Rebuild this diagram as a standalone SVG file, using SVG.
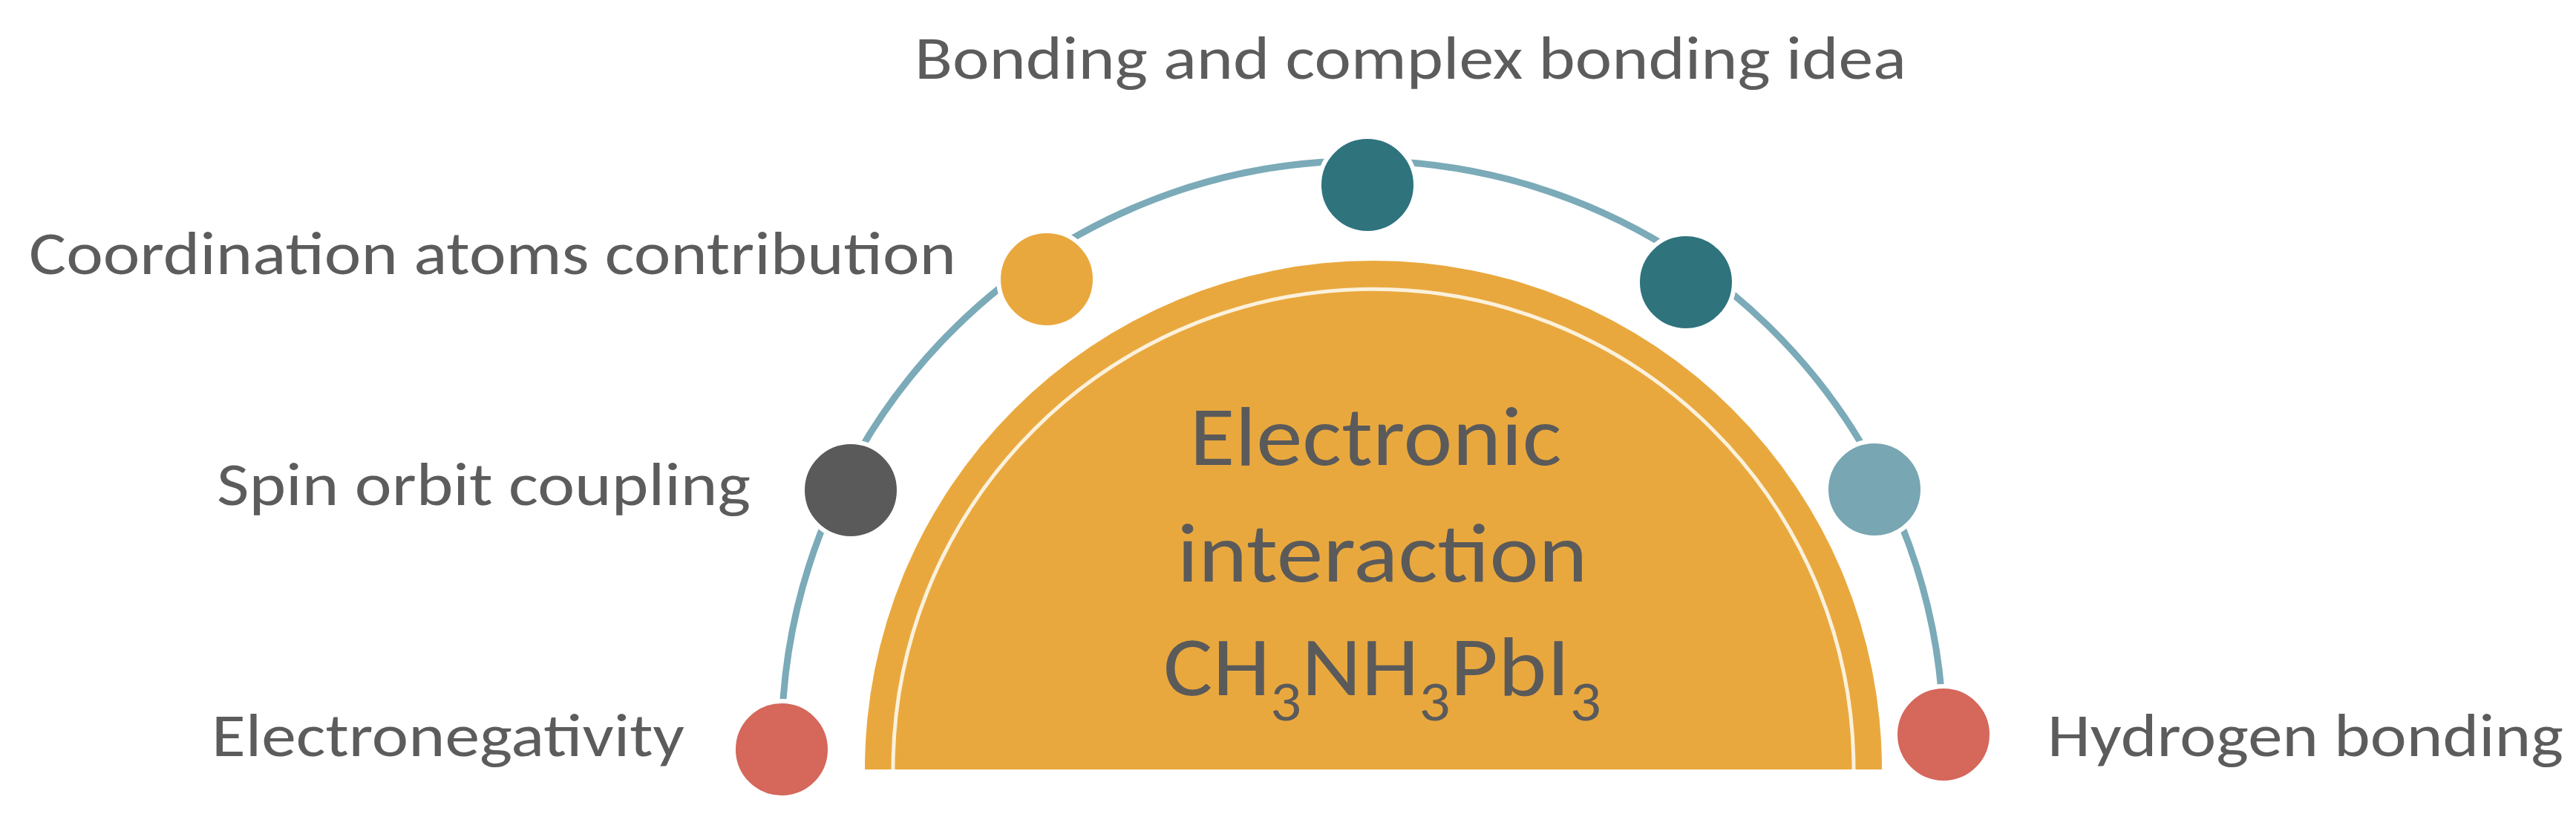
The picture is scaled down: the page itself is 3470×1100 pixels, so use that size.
<svg xmlns="http://www.w3.org/2000/svg" width="3470" height="1100" viewBox="0 0 3470 1100">
  <style>
    .lbl { font-family: Carlito, Lato, "Open Sans", sans-serif; font-size: 82px; font-weight: 300; fill: #5C5C5C; }
    .ctr { font-family: Carlito, Lato, "Open Sans", sans-serif; font-size: 114px; font-weight: 300; fill: #5A5A5A; text-anchor: middle; }
    .dot { stroke: #FFFFFF; stroke-width: 6; }
    .arc { fill: none; stroke: #7BAAB8; stroke-width: 9; }
  </style>
  <rect width="3470" height="1100" fill="#FFFFFF"/>

  <g id="connectors">
    <path class="arc" d="M 1053,1009 A 782 782 0 0 1 2618,989"/>
  </g>

  <g id="center-node">
    <path d="M 1165,1036 A 685 685 0 0 1 2535,1036 Z" fill="#E9A83E"/>
    <path d="M 1203,1036 A 647 647 0 0 1 2497,1036" fill="none" stroke="#FBF1DC" stroke-width="5"/>
    <text class="ctr" x="1853" y="626" textLength="501" lengthAdjust="spacingAndGlyphs">Electronic</text>
    <text class="ctr" x="1862" y="783" textLength="553" lengthAdjust="spacingAndGlyphs">interaction</text>
    <text class="ctr" x="1862" y="936" textLength="590" lengthAdjust="spacingAndGlyphs">CH<tspan dy="34" font-size="76">3</tspan><tspan dy="-34">NH</tspan><tspan dy="34" font-size="76">3</tspan><tspan dy="-34">PbI</tspan><tspan dy="34" font-size="76">3</tspan></text>
  </g>

  <g id="node-electronegativity">
    <circle class="dot" cx="1053" cy="1009" r="65" fill="#D5675B"/>
    <text class="lbl" x="285" y="1018" textLength="637" lengthAdjust="spacingAndGlyphs">Electronegativity</text>
  </g>

  <g id="node-spin-orbit">
    <circle class="dot" cx="1146" cy="660" r="65" fill="#5A5A5A"/>
    <text class="lbl" x="292" y="680" textLength="719" lengthAdjust="spacingAndGlyphs">Spin orbit coupling</text>
  </g>

  <g id="node-coordination">
    <circle class="dot" cx="1410" cy="376" r="65" fill="#E9A83E"/>
    <text class="lbl" x="39" y="369" textLength="1249" lengthAdjust="spacingAndGlyphs">Coordination atoms contribution</text>
  </g>

  <g id="node-bonding">
    <circle class="dot" cx="1842" cy="249" r="65" fill="#2F737D"/>
    <text class="lbl" x="1232" y="106" textLength="1336" lengthAdjust="spacingAndGlyphs">Bonding and complex bonding idea</text>
  </g>

  <g id="node-teal-right">
    <circle class="dot" cx="2271" cy="380" r="65" fill="#2F737D"/>
  </g>

  <g id="node-lightteal-right">
    <circle class="dot" cx="2525" cy="659" r="65" fill="#78A6B3"/>
  </g>

  <g id="node-hydrogen">
    <circle class="dot" cx="2618" cy="989" r="65" fill="#D5675B"/>
    <text class="lbl" x="2758" y="1018" textLength="695" lengthAdjust="spacingAndGlyphs">Hydrogen bonding</text>
  </g>
</svg>
